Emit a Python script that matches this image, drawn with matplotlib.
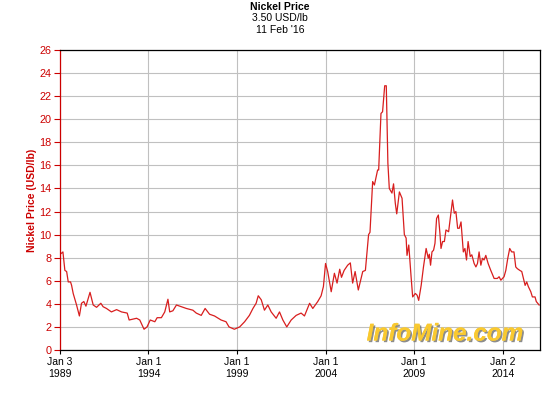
import matplotlib.pyplot as plt
import matplotlib.patheffects as pe

plt.rcParams['font.family'] = ['Liberation Sans', 'DejaVu Sans']

# Nickel price, USD/lb (decimal year, value)
years = [
    1989.0, 1989.1, 1989.17, 1989.28, 1989.38, 1989.47, 1989.6, 1989.66, 1989.75, 1989.94,
    1990.1, 1990.22, 1990.35, 1990.47, 1990.7, 1990.88, 1991.07, 1991.31, 1991.44, 1991.63,
    1991.91, 1992.2, 1992.48, 1992.8, 1992.91, 1993.33, 1993.51, 1993.75, 1993.92, 1994.1,
    1994.36, 1994.49, 1994.73, 1994.92, 1995.1, 1995.2, 1995.38, 1995.58, 1995.86, 1996.14,
    1996.51, 1996.7, 1996.98, 1997.2, 1997.45, 1997.73, 1998.1, 1998.38, 1998.55, 1998.85,
    1999.15, 1999.43, 1999.7, 1999.9, 2000.08, 2000.2, 2000.37, 2000.55, 2000.74, 2000.93,
    2001.21, 2001.4, 2001.59, 2001.81, 2002.06, 2002.34, 2002.62, 2002.81, 2003.1, 2003.28,
    2003.56, 2003.75, 2003.88, 2004.0, 2004.12, 2004.32, 2004.5, 2004.65, 2004.8, 2004.9,
    2005.05, 2005.25, 2005.4, 2005.53, 2005.67, 2005.85, 2006.1, 2006.25, 2006.43, 2006.51,
    2006.66, 2006.76, 2006.94, 2007.0, 2007.13, 2007.22, 2007.34, 2007.43, 2007.52, 2007.6,
    2007.75, 2007.84, 2007.94, 2008.02, 2008.17, 2008.32, 2008.45, 2008.55, 2008.6, 2008.7,
    2008.83, 2008.92, 2009.07, 2009.17, 2009.26, 2009.4, 2009.53, 2009.68, 2009.8, 2009.86,
    2009.93, 2010.01, 2010.1, 2010.18, 2010.27, 2010.37, 2010.46, 2010.52, 2010.61, 2010.71,
    2010.8, 2010.95, 2011.04, 2011.17, 2011.27, 2011.36, 2011.46, 2011.55, 2011.65, 2011.78,
    2011.87, 2011.96, 2012.05, 2012.17, 2012.26, 2012.39, 2012.49, 2012.58, 2012.67, 2012.77,
    2012.86, 2012.95, 2013.05, 2013.18, 2013.33, 2013.52, 2013.7, 2013.8, 2013.9, 2013.99,
    2014.08, 2014.18, 2014.29, 2014.4, 2014.51, 2014.64, 2014.74, 2014.83, 2014.97, 2015.08,
    2015.15, 2015.27, 2015.36, 2015.45, 2015.59, 2015.68, 2015.83, 2015.9, 2016.06,
]
prices = [
    8.3, 8.4, 8.5, 6.9, 6.8, 5.9, 5.9, 5.6, 4.9, 3.9,
    2.95, 4.05, 4.2, 3.8, 5.0, 3.9, 3.7, 4.05, 3.75, 3.6,
    3.3, 3.5, 3.3, 3.2, 2.6, 2.75, 2.6, 1.8, 2.0, 2.6,
    2.45, 2.8, 2.8, 3.3, 4.4, 3.3, 3.4, 3.9, 3.75, 3.6,
    3.45, 3.2, 3.0, 3.6, 3.1, 2.95, 2.6, 2.45, 2.0, 1.8,
    2.0, 2.45, 3.0, 3.6, 4.05, 4.7, 4.35, 3.45, 3.9, 3.3,
    2.75, 3.3, 2.6, 2.0, 2.6, 3.0, 3.2, 2.95, 4.05, 3.6,
    4.2, 4.7, 5.5, 7.5, 6.8, 5.05, 6.65, 5.8, 7.0, 6.3,
    6.9, 7.35, 7.55, 5.8, 6.8, 5.2, 6.8, 6.9, 10.0, 10.2,
    14.6, 14.3, 15.6, 15.6, 20.5, 20.65, 22.9, 22.9, 16.2, 14.0,
    13.6, 14.4, 12.7, 11.8, 13.7, 13.15, 10.0, 9.7, 8.2, 9.1,
    6.35, 4.6, 4.9, 4.75, 4.3, 5.6, 7.2, 8.8, 7.95, 8.3,
    7.35, 8.5, 8.65, 9.25, 11.4, 11.7, 10.1, 8.8, 9.4, 9.4,
    10.4, 10.25, 11.4, 13.0, 11.85, 12.0, 10.55, 10.55, 11.1, 8.5,
    8.8, 7.8, 9.4, 8.1, 8.25, 7.5, 7.2, 7.5, 8.5, 7.35,
    7.95, 7.8, 8.2, 7.5, 6.9, 6.2, 6.2, 6.35, 6.05, 6.2,
    6.35, 6.9, 7.95, 8.8, 8.5, 8.5, 7.2, 7.05, 6.9, 6.8,
    6.35, 5.6, 5.9, 5.5, 5.05, 4.6, 4.6, 4.2, 3.9,
]

tick_years = [1989.005, 1994.0, 1999.0, 2004.0, 2009.0, 2014.003]
tick_labels = ["Jan 3\n1989", "Jan 1\n1994", "Jan 1\n1999", "Jan 1\n2004", "Jan 1\n2009", "Jan 2\n2014"]
y_ticks = list(range(0, 27, 2))

red = "#cc0000"

fig = plt.figure(figsize=(5.6, 4.0), dpi=100)
ax = fig.add_axes([60 / 560, 50 / 400, 480 / 560, 300 / 400])

ax.plot(years, prices, color="#d81e1e", linewidth=0.9)

ax.set_xlim(1989.005, 2016.11)
ax.set_ylim(0, 26)
ax.set_xticks(tick_years)
ax.set_xticklabels(tick_labels, fontsize=7.5)
ax.set_yticks(y_ticks)
ax.set_yticklabels([str(v) for v in y_ticks], fontsize=7.8, color=red)

ax.grid(True, color="#c0c0c0", linewidth=0.8)
ax.set_axisbelow(True)

ax.spines["left"].set_color(red)
for s in ["top", "right", "bottom"]:
    ax.spines[s].set_color("black")
for s in ax.spines.values():
    s.set_linewidth(0.9)

ax.tick_params(axis="y", colors=red, length=4, width=0.8, pad=2)
ax.tick_params(axis="x", colors="black", length=3, width=0.8, pad=2)

ax.set_ylabel("Nickel Price (USD/lb)", color=red, fontsize=7.5, fontweight="bold", labelpad=2)

# titles
fig.text(280 / 560, 1 - 7 / 400, "Nickel Price", ha="center", va="center", fontsize=7.5, fontweight="bold")
fig.text(280 / 560, 1 - 18 / 400, "3.50 USD/lb", ha="center", va="center", fontsize=7.5)
fig.text(280 / 560, 1 - 30 / 400, "11 Feb '16", ha="center", va="center", fontsize=7.5)

# watermark logo
fig.text(445 / 560, 1 - 334 / 400, "InfoMine.com", ha="center", va="center", fontsize=17.5,
         fontweight="bold", style="italic", color="#f9c930",
         path_effects=[pe.withSimplePatchShadow(offset=(1.2, -1.2), shadow_rgbFace="#707070", alpha=0.8),
                       pe.Normal()])

fig.savefig("out.png", dpi=100)
